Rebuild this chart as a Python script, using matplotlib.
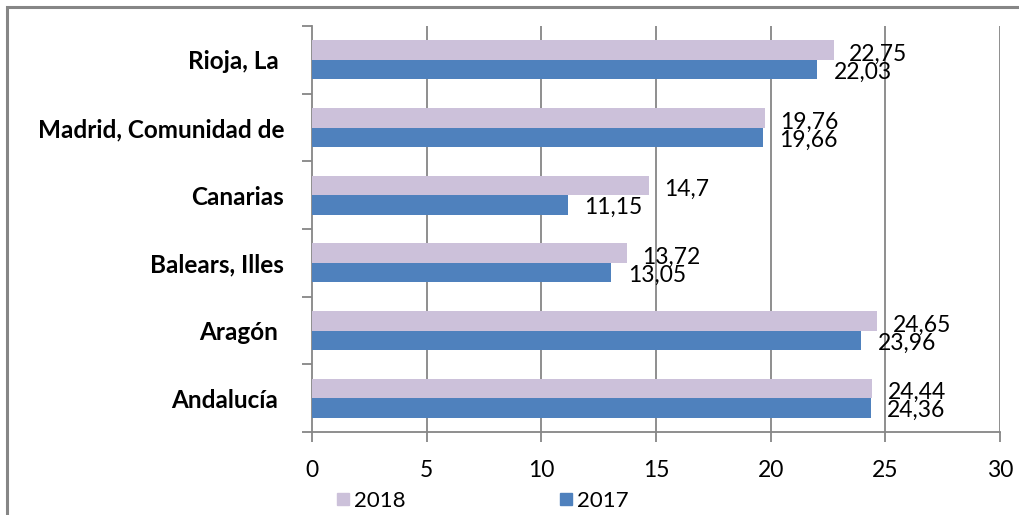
import matplotlib.pyplot as plt
from matplotlib.lines import Line2D
from matplotlib.patches import Rectangle

regions = ["Andalucía ", "Aragón ", "Balears, Illes", "Canarias", "Madrid, Comunidad de", "Rioja, La "]
values_2018 = [24.44, 24.65, 13.72, 14.7, 19.76, 22.75]
values_2017 = [24.36, 23.96, 13.05, 11.15, 19.66, 22.03]
x_ticks = [0, 5, 10, 15, 20, 25, 30]

C2018 = "#CCC1DA"
C2017 = "#4F81BD"
GRID = "#868686"

plt.rcParams["font.family"] = ["Lato", "DejaVu Sans"]

fig = plt.figure(figsize=(10.2, 5.15), dpi=100)
ax = fig.add_axes([312 / 1020, 1 - 432 / 515, 688 / 1020, 406 / 515])

# outer chart frame (cropped at right/bottom like the reference)
fig.patches.append(Rectangle((7 / 1020, -0.1), 1.1, 1 - 7 / 515 + 0.1,
                             transform=fig.transFigure, fill=False,
                             edgecolor=GRID, linewidth=2.2))

pos = list(range(len(regions)))
h = 0.29
off = 0.145
ax.barh([p + off for p in pos], values_2018, height=h, color=C2018, zorder=3)
ax.barh([p - off for p in pos], values_2017, height=h, color=C2017, zorder=3)

fmt = lambda v: f"{v:g}".replace(".", ",")
for p, v in zip(pos, values_2018):
    ax.annotate(fmt(v), (v, p + off), xytext=(11, -3), textcoords="offset points",
                va="center", ha="left", fontsize=16.5, zorder=4)
for p, v in zip(pos, values_2017):
    ax.annotate(fmt(v), (v, p - off), xytext=(12, -2), textcoords="offset points",
                va="center", ha="left", fontsize=16.5, zorder=4)

ax.set_xlim(0, 30)
ax.set_ylim(-0.5, len(regions) - 0.5)
ax.set_xticks(x_ticks)
ax.set_xticklabels([str(t) for t in x_ticks], fontsize=16.5)
for t in x_ticks[1:]:
    ax.axvline(t, color=GRID, linewidth=1.3, zorder=1)

ax.set_yticks([p - 0.5 for p in pos] + [len(regions) - 0.5])
ax.set_yticklabels([])
ax.set_yticks(pos, minor=True)
ax.set_yticklabels(regions, minor=True, fontsize=17.5, fontweight="bold")
ax.tick_params(axis="y", which="minor", length=0, pad=20)
ax.tick_params(axis="y", which="major", length=7, width=1.3, color=GRID)
ax.tick_params(axis="x", length=7, width=1.3, color=GRID, pad=13)

for s in ["top", "right"]:
    ax.spines[s].set_visible(False)
for s in ["left", "bottom"]:
    ax.spines[s].set_color(GRID)
    ax.spines[s].set_linewidth(1.3)

handles = [
    Line2D([0], [0], marker="s", linestyle="None", markerfacecolor=C2018,
           markeredgecolor=C2018, markersize=8, label="2018"),
    Line2D([0], [0], marker="s", linestyle="None", markerfacecolor=C2017,
           markeredgecolor=C2017, markersize=8, label="2017"),
]
fig.legend(handles=handles, loc="center left", bbox_to_anchor=(325 / 1020, 1 - 501 / 515),
           ncol=2, frameon=False, fontsize=16, handlelength=0.6, handletextpad=0.2,
           columnspacing=6.9, borderpad=0)

fig.savefig("out.png", dpi=100)
